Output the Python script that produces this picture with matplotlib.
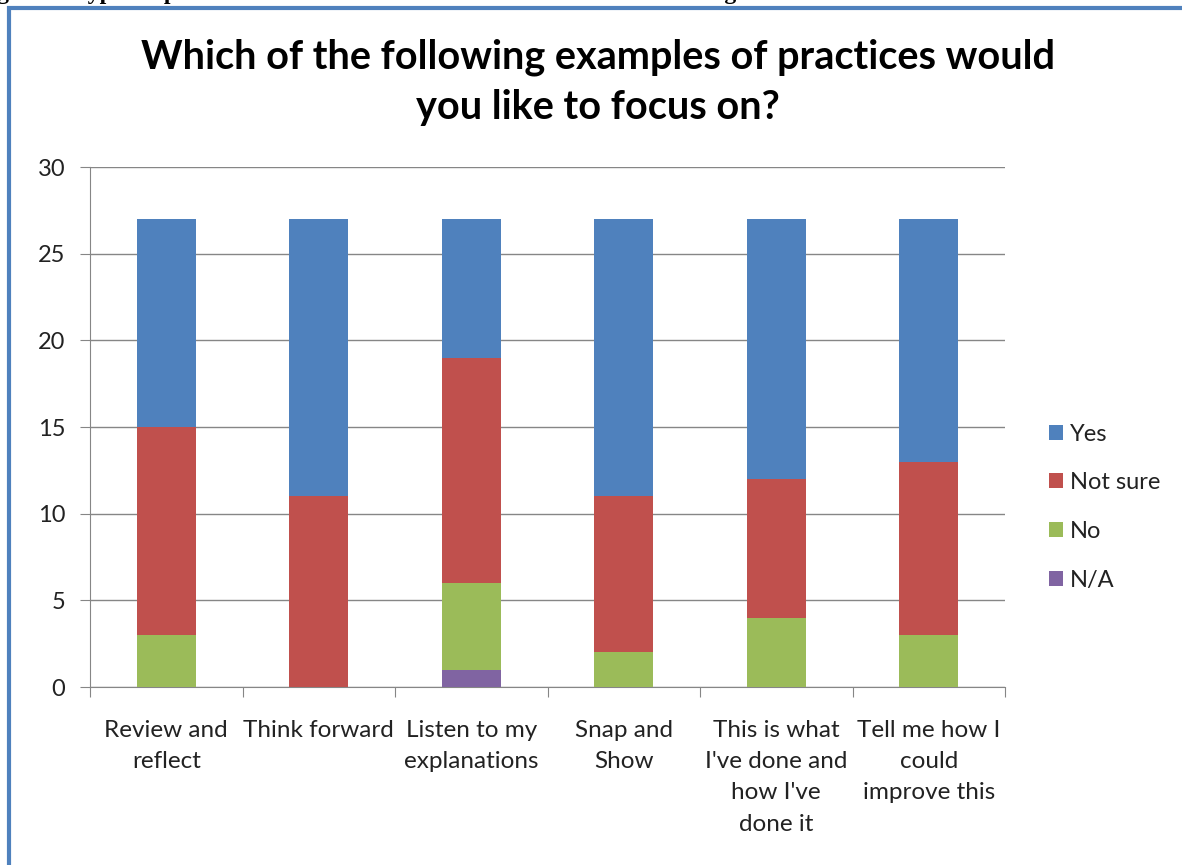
import matplotlib
matplotlib.use("Agg")
import matplotlib.pyplot as plt
import numpy as np
from matplotlib.patches import Rectangle

categories = ["Review and\nreflect", "Think forward", "Listen to my\nexplanations",
              "Snap and\nShow", "This is what\nI've done and\nhow I've\ndone it",
              "Tell me how I\ncould\nimprove this"]
na = [0, 0, 1, 0, 0, 0]
no = [3, 0, 5, 2, 4, 3]
not_sure = [12, 11, 13, 9, 8, 10]
yes = [12, 16, 8, 16, 15, 14]

series = [("N/A", na, "#8064A2"), ("No", no, "#9BBB59"),
          ("Not sure", not_sure, "#C0504D"), ("Yes", yes, "#4F81BD")]

plt.rcParams["font.family"] = ["Lato", "DejaVu Sans"]
grid_col = "#868686"
W, H = 1182, 865

fig = plt.figure(figsize=(W / 100, H / 100), dpi=100)
ax = fig.add_axes([90 / W, 1 - 687 / H, 915 / W, 520 / H])

x = np.arange(len(categories))
bottom = np.zeros(len(categories))
handles = {}
for name, vals, col in series:
    vals = np.array(vals, dtype=float)
    b = ax.bar(x, vals, 0.39, bottom=bottom, color=col, zorder=3)
    handles[name] = b
    bottom += vals

ax.set_xlim(-0.5, len(categories) - 0.5)
ax.set_ylim(0, 30)
ax.set_yticks(range(0, 31, 5))
ax.yaxis.grid(True, color=grid_col, linewidth=1)
ax.set_axisbelow(True)
for s in ["top", "right"]:
    ax.spines[s].set_visible(False)
for s in ["left", "bottom"]:
    ax.spines[s].set_color(grid_col)
ax.tick_params(axis="y", length=7.2, color=grid_col, labelsize=17, pad=10.5,
               labelcolor="#222222")

# category labels between boundary ticks
ax.set_xticks(np.arange(len(categories) + 1) - 0.5)
ax.set_xticklabels([])
ax.tick_params(axis="x", length=7.2, color=grid_col)
for i, lab in enumerate(categories):
    ax.text(i, -1.9, lab, ha="center", va="top", fontsize=17.5,
            linespacing=1.6, color="#222222")

fig.text(598 / W, 1 - 82 / H,
         "Which of the following examples of practices would\nyou like to focus on?",
         ha="center", va="center", fontsize=28.5, fontweight="bold", linespacing=1.44)

order = ["Yes", "Not sure", "No", "N/A"]
ax.legend([handles[k] for k in order], order, loc="center left",
          bbox_to_anchor=(1.025, 0.346), frameon=False, fontsize=17,
          handlelength=0.6, handleheight=0.6, handletextpad=0.3,
          labelspacing=1.17, labelcolor="#222222")

# chart frame and the caption clipped above it
fig.patches.append(Rectangle((9 / W, -0.01), 1.02, 1 - 8 / H + 0.01,
                             transform=fig.transFigure, fill=False,
                             edgecolor="#4F81BD", linewidth=3))
fig.text(-0.02, 1 + 1 / H, "Figure 3: Types of practices that teachers would like covered in the training sessions",
         family="Liberation Serif", fontweight="bold", fontsize=17, va="baseline", ha="left")

fig.savefig("out.png", dpi=100)
